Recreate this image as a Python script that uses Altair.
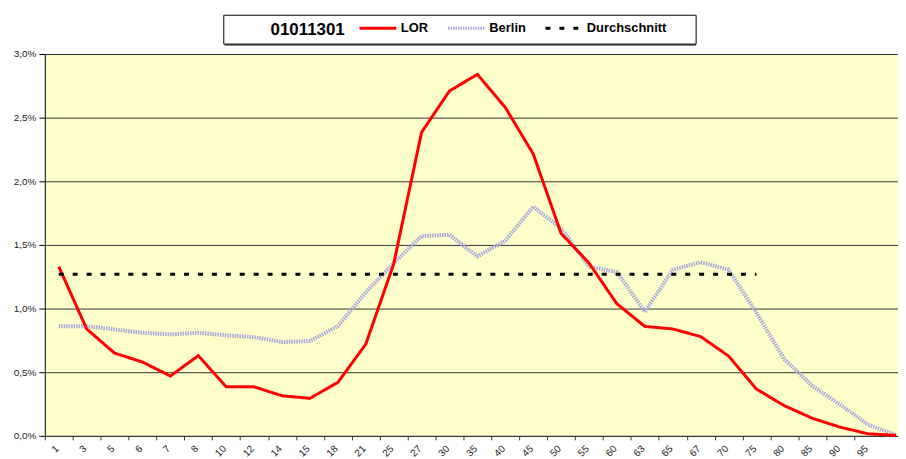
import altair as alt
import pandas as pd

# ---- data ----
age_labels = ["1", "3", "5", "6", "7", "8", "10", "12", "14", "15", "18", "21", "25", "27", "30",
              "35", "40", "45", "50", "55", "60", "63", "65", "67", "70", "75", "80", "85", "90", "95", ""]

lor = [1.33, 0.84, 0.65, 0.58, 0.47, 0.63, 0.385, 0.385, 0.315, 0.295, 0.42, 0.72, 1.35, 2.385,
       2.71, 2.84, 2.58, 2.215, 1.59, 1.357, 1.037, 0.86, 0.84, 0.78, 0.627, 0.367, 0.237, 0.138,
       0.068, 0.016, 0.004]

berlin = [0.862, 0.862, 0.836, 0.81, 0.797, 0.81, 0.79, 0.776, 0.737, 0.745, 0.862, 1.127, 1.357,
          1.57, 1.58, 1.41, 1.534, 1.80, 1.63, 1.33, 1.287, 0.974, 1.305, 1.365, 1.305, 0.966, 0.60,
          0.393, 0.245, 0.088, 0.006]

avg_value = 1.27
avg_count = 26  # the average line spans the first 26 age groups

series_names = ["LOR", "Berlin", "Durchschnitt"]
series_colors = ["#FF0000", "#A8A8DC", "#000000"]
series_dashes = [[1, 0], [1.5, 1], [5, 9]]
legend_title = "01011301"

rows = []
for i, v in enumerate(lor):
    rows.append({"idx": i, "value": v, "series": "LOR"})
for i, v in enumerate(berlin):
    rows.append({"idx": i, "value": v, "series": "Berlin"})
for i in range(avg_count):
    rows.append({"idx": i, "value": avg_value, "series": "Durchschnitt"})
df = pd.DataFrame(rows)

label_array = "[" + ",".join("'" + s + "'" for s in age_labels) + "]"
tick_values = [i - 0.5 for i in range(len(age_labels) - 1)]

FONT = "Liberation Sans"

x_enc = alt.X(
    "idx:Q",
    scale=alt.Scale(domain=[-0.5, 30.07], nice=False, zero=False),
    axis=alt.Axis(
        values=tick_values,
        labelExpr=label_array + "[datum.value + 0.5]",
        labelOffset=12,
        labelAngle=-45,
        labelAlign="right",
        labelBaseline="middle",
        labelFontSize=10,
        labelFont=FONT,
        labelColor="#222222",
        labelPadding=7,
        tickSize=4,
        tickColor="#333333",
        domainColor="#333333",
        grid=False,
        title=None,
    ),
)
y_enc = alt.Y(
    "value:Q",
    scale=alt.Scale(domain=[0, 3], nice=False),
    axis=alt.Axis(
        values=[0, 0.5, 1, 1.5, 2, 2.5, 3],
        labelExpr="replace(format(datum.value, '.1f'), '.', ',') + '%'",
        labelFontSize=10,
        labelFont=FONT,
        labelColor="#222222",
        labelPadding=3,
        tickSize=6,
        tickColor="#000000",
        domainColor="#000000",
        gridColor="#333333",
        gridWidth=1,
        title=None,
    ),
)

legend_common = dict(
    title=legend_title,
    orient="none",
    legendX=227,
    legendY=-46,
    direction="horizontal",
    titleOrient="left",
)

color_enc = alt.Color(
    "series:N",
    scale=alt.Scale(domain=series_names, range=series_colors),
    legend=alt.Legend(
        **legend_common,
        titleFontSize=17,
        titleFont=FONT,
        titleFontWeight="bold",
        titleColor="#000000",
        titlePadding=13,
        titleBaseline="top",
        labelFontSize=13,
        labelFont=FONT,
        labelFontWeight="bold",
        labelColor="#000000",
        labelOffset=3,
        columnPadding=13,
        symbolType="stroke",
        symbolSize=1369,
        symbolStrokeWidth=3,
        padding=0,
    ),
)
dash_enc = alt.StrokeDash(
    "series:N",
    scale=alt.Scale(domain=series_names, range=series_dashes),
    legend=alt.Legend(**legend_common),
)

box = alt.Chart(pd.DataFrame({"a": [0]})).mark_rect(
    fill="white", stroke="black", strokeWidth=1
).encode(x=alt.value(180), x2=alt.value(655), y=alt.value(-39), y2=alt.value(-10))
shadow = alt.Chart(pd.DataFrame({"a": [0]})).mark_rule(
    color="#808080", strokeWidth=2
).encode(x=alt.value(181), x2=alt.value(655), y=alt.value(-9))

base = alt.Chart(df)
berlin_line = base.transform_filter(alt.datum.series == "Berlin").mark_line(strokeWidth=4).encode(
    x=x_enc, y=y_enc, color=color_enc, strokeDash=dash_enc)
lor_line = base.transform_filter(alt.datum.series == "LOR").mark_line(strokeWidth=3).encode(
    x=x_enc, y=y_enc, color=color_enc, strokeDash=dash_enc)
avg_line = base.transform_filter(alt.datum.series == "Durchschnitt").mark_line(strokeWidth=3).encode(
    x=x_enc, y=y_enc, color=color_enc, strokeDash=dash_enc)

chart = alt.layer(shadow, box, berlin_line, lor_line, avg_line).properties(
    width=858,
    height=384,
    autosize=alt.AutoSizeParams(type="none"),
    padding={"left": 37, "top": 45, "right": 0, "bottom": 22},
    background="white",
).configure_view(
    fill="#FFFFCC", stroke=None
)

chart.save("out.html", embed_options={"renderer": "svg", "actions": False})
